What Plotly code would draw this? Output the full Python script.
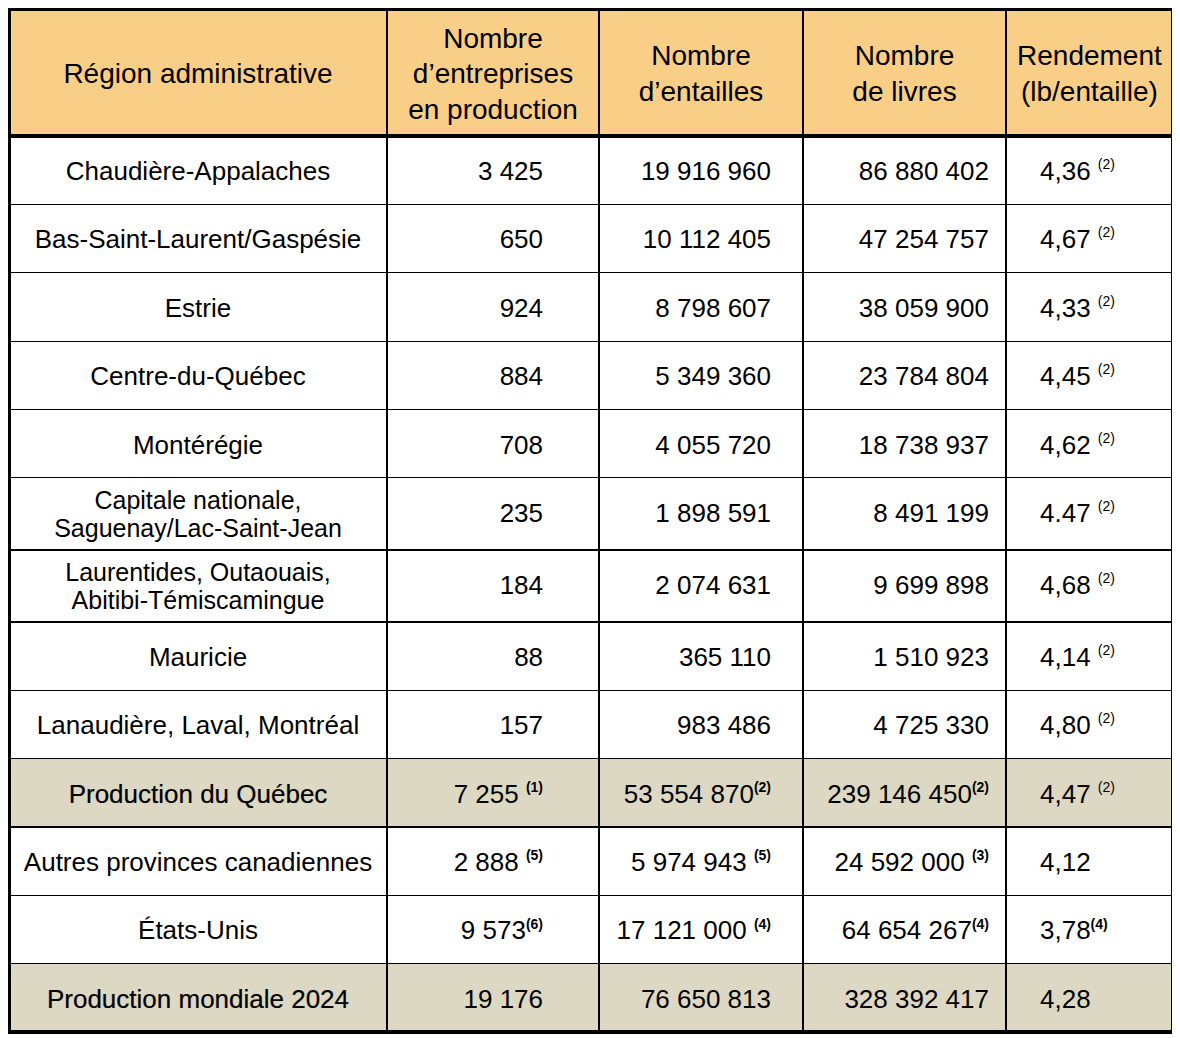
import math
import plotly.graph_objects as go

# ---------------- data ----------------
headers = [
    ["Région administrative"],
    ["Nombre", "d’entreprises", "en production"],
    ["Nombre", "d’entailles"],
    ["Nombre", "de livres"],
    ["Rendement", "(lb/entaille)"],
]
regions = [
    ["Chaudière-Appalaches"],
    ["Bas-Saint-Laurent/Gaspésie"],
    ["Estrie"],
    ["Centre-du-Québec"],
    ["Montérégie"],
    ["Capitale nationale,", "Saguenay/Lac-Saint-Jean"],
    ["Laurentides, Outaouais,", "Abitibi-Témiscamingue"],
    ["Mauricie"],
    ["Lanaudière, Laval, Montréal"],
    ["Production du Québec"],
    ["Autres provinces canadiennes"],
    ["États-Unis"],
    ["Production mondiale 2024"],
]
entreprises = [3425, 650, 924, 884, 708, 235, 184, 88, 157, 7255, 2888, 9573, 19176]
entailles = [19916960, 10112405, 8798607, 5349360, 4055720, 1898591, 2074631,
             365110, 983486, 53554870, 5974943, 17121000, 76650813]
livres = [86880402, 47254757, 38059900, 23784804, 18738937, 8491199, 9699898,
          1510923, 4725330, 239146450, 24592000, 64654267, 328392417]
rendement = ["4,36", "4,67", "4,33", "4,45", "4,62", "4.47", "4,68", "4,14",
             "4,80", "4,47", "4,12", "3,78", "4,28"]

# footnote references (text, bold?)
notes_entreprises = [None] * 9 + [(" (1)", True), (" (5)", True), ("(6)", True), None]
notes_entailles = [None] * 9 + [("(2)", True), (" (5)", True), (" (4)", True), None]
notes_livres = [None] * 9 + [("(2)", True), (" (3)", True), ("(4)", True), None]
notes_rendement = [(" (2)", False)] * 10 + [None, ("(4)", True), None]

row_kind = ["r"] * 9 + ["t", "r", "r", "t"]   # t = total row

# ---------------- style ----------------
FONT = "Liberation Sans, Arial, Helvetica, sans-serif"
HEAD_PX = 28
BODY_PX = 26
BODY2_PX = 25          # two-line region labels
SUP_PX = 14
HEAD_S = 6.846         # header base size -> line step 8.9 px
HEAD_SPACER = 4.6
HEAD_GAP = 4           # steps between header lines
HEAD_LEAD = {3: 3, 2: 5, 1: 7}
BODY_S = 10.77         # body base size -> line step 14 px
BODY_SPACER = 9.28
HEAD_FILL = "#F9CF87"
TOTAL_FILL = "#DDD8C3"
WHITE = "#FFFFFF"
col_widths = [378, 212, 204, 203, 167]
right_pad = [0, 48, 24, 9, 0]
left_pad = [0, 0, 0, 0, 26]

# Arial / Liberation Sans advance widths (per 1000 em)
AW = {" ": 278, ",": 278, ".": 278, "-": 333, "/": 278, "(": 333, ")": 333,
      "’": 222, "'": 191}
AW.update({d: 556 for d in "0123456789"})
AW.update(dict(zip("ABCDEFGHIJKLMNOPQRSTUVWXYZ",
                   [667, 667, 722, 722, 667, 611, 778, 722, 278, 500, 667, 556, 833,
                    722, 778, 667, 778, 722, 667, 611, 722, 667, 944, 667, 667, 611])))
AW.update(dict(zip("abcdefghijklmnopqrstuvwxyz",
                   [556, 556, 500, 556, 556, 278, 556, 556, 222, 222, 500, 222, 833,
                    556, 556, 556, 556, 333, 500, 278, 556, 500, 722, 500, 500, 500])))
AW.update({"é": 556, "è": 556, "É": 667})


def text_w(t, px):
    return sum(AW.get(c, 556) for c in t) * px / 1000.0


def tpad(px, maxfs):
    """invisible horizontal padding of given width"""
    if px <= 0.5:
        return ""
    n = max(1, math.ceil(px / (0.278 * maxfs)))
    fs = px / (n * 0.278)
    return (f'<span style="font-size:{fs:.2f}px;color:rgba(0,0,0,0)">'
            + "." * n + "</span>")


def spacer(fs):
    return f'<span style="font-size:{fs}px;color:rgba(0,0,0,0)">.</span>'


def span(t, px, heavy=False):
    extra = ";stroke:#000000;stroke-width:0.2px" if heavy else ""
    return f'<span style="font-size:{px}px{extra}">{t}</span>'


def fmt_int(v):
    return f"{v:,}".replace(",", " ")


def sup(note):
    if note is None:
        return ""
    txt, bold = note
    lead = " " if txt.startswith(" ") else ""
    core = txt.strip()
    if bold:
        core = f"<b>{core}</b>"
    return lead + f'<sup><span style="font-size:{SUP_PX}px">{core}</span></sup>'


def centered_lines(lines, px):
    wmax = max(text_w(l, px) for l in lines)
    return [tpad((wmax - text_w(l, px)) / 2, px) + span(l, px) for l in lines]


def body_single(content, col, heavy=False):
    return (spacer(BODY_SPACER) + "<br><br>"
            + tpad(left_pad[col], BODY_PX) + span(content, BODY_PX, heavy)
            + tpad(right_pad[col], BODY_PX))


def region_cell(lines, kind):
    if len(lines) == 1:
        return body_single(lines[0], 0, heavy=(kind == "t"))
    return "<br><br>".join(centered_lines(lines, BODY2_PX))


def head_cell(lines):
    sep = "<br>" * HEAD_GAP
    return (spacer(HEAD_SPACER) + "<br>" * HEAD_LEAD[len(lines)]
            + sep.join(centered_lines(lines, HEAD_PX)))


col0 = [region_cell(r, k) for r, k in zip(regions, row_kind)]
col1 = [body_single(fmt_int(v) + sup(n), 1) for v, n in zip(entreprises, notes_entreprises)]
col2 = [body_single(fmt_int(v) + sup(n), 2) for v, n in zip(entailles, notes_entailles)]
col3 = [body_single(fmt_int(v) + sup(n), 3) for v, n in zip(livres, notes_livres)]
col4 = [body_single(v + sup(n), 4) for v, n in zip(rendement, notes_rendement)]

fills = [TOTAL_FILL if k == "t" else WHITE for k in row_kind]

# page has an 8px body margin -> figure coordinates are screen - 8
W, H = 1180, 1038
OFF = 8
x0, x1, y0, y1 = 9 - OFF, 1173 - OFF, 9 - OFF, 1032 - OFF
HEAD_H = 127
ROW_H = 68.38

fig = go.Figure(
    go.Table(
        domain=dict(x=[x0 / W, x1 / W], y=[1 - (y1 + 2) / H, 1 - y0 / H]),
        columnwidth=col_widths,
        header=dict(
            values=[head_cell(h) for h in headers],
            fill_color=HEAD_FILL,
            line=dict(color="black", width=1.2),
            align="center",
            font=dict(family=FONT, size=HEAD_S, color="black"),
            height=HEAD_H,
        ),
        cells=dict(
            values=[col0, col1, col2, col3, col4],
            fill_color=[fills] * 5,
            line=dict(color="black", width=1.2),
            align=["center", "right", "right", "right", "left"],
            font=dict(family=FONT, size=BODY_S, color="black"),
            height=ROW_H,
        ),
    )
)

fig.update_layout(
    width=W, height=H,
    margin=dict(l=0, r=0, t=0, b=0, pad=0),
    paper_bgcolor="white",
    plot_bgcolor="white",
    shapes=[
        dict(type="rect", xref="paper", yref="paper",
             x0=x0 / W, x1=x1 / W, y0=1 - y1 / H, y1=1 - y0 / H,
             line=dict(color="black", width=4), fillcolor="rgba(0,0,0,0)"),
        dict(type="line", xref="paper", yref="paper",
             x0=x0 / W, x1=x1 / W, y0=1 - (y0 + HEAD_H) / H, y1=1 - (y0 + HEAD_H) / H,
             line=dict(color="black", width=4)),
    ],
)

fig.write_html("out.html")
